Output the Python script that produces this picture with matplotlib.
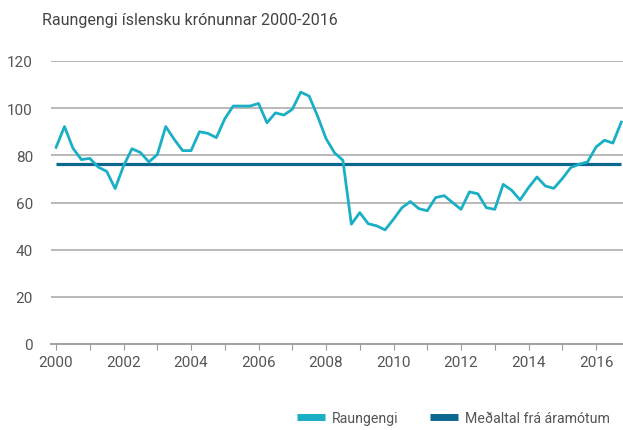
import matplotlib
matplotlib.use("Agg")
import matplotlib.pyplot as plt
import numpy as np
from matplotlib.lines import Line2D

plt.rcParams['font.family'] = ['Roboto', 'DejaVu Sans']

title = "Raungengi íslensku krónunnar 2000-2016"
series_name = "Raungengi"
mean_name = "Meðaltal frá áramótum"

start_year = 2000
# Quarterly real exchange rate index, 2000Q1 - 2016Q4
raungengi = [
    83.4, 92.2, 83.0, 78.2, 78.7, 75.0, 73.2, 65.9,
    75.5, 82.8, 81.2, 77.2, 80.3, 92.2, 86.8, 82.0,
    82.0, 90.0, 89.3, 87.5, 95.5, 100.9, 100.9, 100.9,
    102.0, 93.8, 98.0, 97.1, 99.5, 106.8, 105.1, 96.6,
    87.1, 81.1, 77.9, 50.8, 55.7, 51.0, 50.1, 48.4,
    52.9, 57.8, 60.4, 57.4, 56.5, 62.1, 62.9, 60.0,
    57.1, 64.5, 63.7, 57.8, 57.1, 67.7, 65.2, 61.1,
    66.3, 70.8, 67.0, 66.0, 70.1, 74.8, 76.2, 77.2,
    83.5, 86.4, 85.2, 94.1,
]
medaltal = 76.5

year_ticks = list(range(2000, 2017))
year_labels = [str(y) if y % 2 == 0 else "" for y in year_ticks]
y_ticks = [0, 20, 40, 60, 80, 100, 120]

c_light = "#1aafc4"
c_dark = "#0d6890"
c_grid = "#b3b3b3"
c_text = "#555555"

x = start_year + np.arange(len(raungengi)) / 4.0

fig = plt.figure(figsize=(6.23, 4.31), dpi=100)
ax = fig.add_axes([51/623, 1 - 345/431, 572/623, (345 - 62)/431])

ax.plot([x[0], x[-1]], [medaltal, medaltal], color=c_dark, lw=2.3,
        solid_capstyle='butt', zorder=3)
ax.plot(x, raungengi, color=c_light, lw=2.0, zorder=4)

ax.set_xlim(1999.85, 2016.8)
ax.set_ylim(0, 120)
ax.set_yticks(y_ticks)
ax.set_xticks(year_ticks)
ax.set_xticklabels(year_labels)

for v in y_ticks[1:]:
    ax.axhline(v, color=c_grid, lw=1.3, zorder=1)

for s in ['top', 'right', 'left']:
    ax.spines[s].set_visible(False)
ax.spines['bottom'].set_color("#999999")
ax.spines['bottom'].set_linewidth(1.3)

ax.tick_params(axis='y', length=0, pad=13, labelsize=11, labelcolor=c_text)
ax.tick_params(axis='x', length=4, width=0.8, color="#999999", pad=4,
               labelsize=11, labelcolor=c_text)

fig.text(42/623, 1 - 20/431, title, fontsize=11.5, color="#444444",
         ha='left', va='center')

handles = [Line2D([0], [0], color=c_light, lw=5, solid_capstyle='butt'),
           Line2D([0], [0], color=c_dark, lw=5, solid_capstyle='butt')]
fig.legend(handles, [series_name, mean_name], loc='lower right',
           bbox_to_anchor=(1.0, -0.018), ncol=2, frameon=False,
           fontsize=10.2, handlelength=2.0, columnspacing=2.2,
           handletextpad=0.5, labelcolor=c_text)

fig.savefig("out.png", dpi=100)
